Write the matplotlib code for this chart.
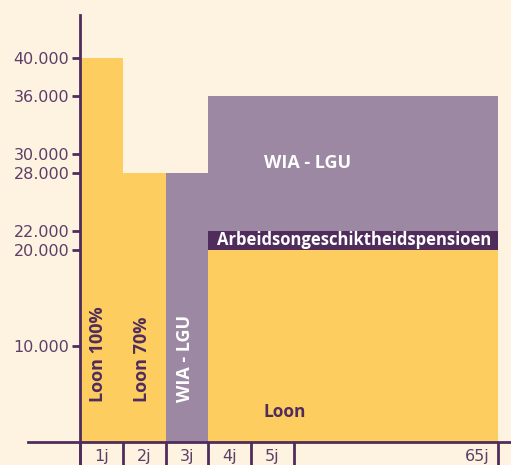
import numpy as np
import matplotlib.pyplot as plt

# colours
bg = '#fef3e1'
yellow = '#fdcd60'
purple = '#9c88a3'
dark = '#4f2c5c'

# data
periods = ['1j', '2j', '3j', '4j', '5j', '65j']
period_edges = [0, 1, 2, 3, 4, 5, 9.8]
bar_left = [0, 1, 2, 3]
bar_width = [1, 1, 1, 6.8]
loon = [40000, 28000, 0, 20000]
aop = [0, 0, 0, 2000]
wia = [0, 0, 28000, 14000]
yticks = [10000, 20000, 22000, 28000, 30000, 36000, 40000]
ytick_labels = ['10.000', '20.000', '22.000', '28.000', '30.000', '36.000', '40.000']

fig = plt.figure(figsize=(5.11, 4.65), dpi=100, facecolor=bg)
ax = fig.add_axes([28/511, 0, 483/511, 450/465])
ax.set_facecolor(bg)

loon = np.array(loon)
aop = np.array(aop)
wia = np.array(wia)
ax.bar(bar_left, loon, width=bar_width, align='edge', color=yellow, lw=0)
ax.bar(bar_left, aop, width=bar_width, bottom=loon, align='edge', color=dark, lw=0)
ax.bar(bar_left, wia, width=bar_width, bottom=loon + aop, align='edge', color=purple, lw=0)

ax.set_xlim(-1.23, 10.1)
ax.set_ylim(-2338, 44416)

for s in ['top', 'right']:
    ax.spines[s].set_visible(False)
ax.spines['left'].set_position(('data', 0))
ax.spines['bottom'].set_position(('data', 0))
for s in ['left', 'bottom']:
    ax.spines[s].set_color(dark)
    ax.spines[s].set_linewidth(2)

ax.set_yticks(yticks)
ax.set_yticklabels(ytick_labels)
ax.tick_params(axis='y', length=6, width=2, color=dark, labelcolor='#5b3f68',
               labelsize=11.5, pad=2)

ax.set_xticks(period_edges)
ax.set_xticklabels([])
ax.tick_params(axis='x', which='major', length=17, width=2, color=dark)
label_pos = [0.5, 1.5, 2.5, 3.5, 4.5, 9.3]
ax.set_xticks(label_pos, minor=True)
ax.set_xticklabels(periods, minor=True)
ax.tick_params(axis='x', which='minor', length=0, labelcolor='#5b3f68',
               labelsize=11.5, pad=5)

bold = dict(fontfamily='Open Sans', fontweight='bold')
ax.text(0.42, 4200, 'Loon 100%', rotation=90, color=dark, fontsize=13,
        ha='center', va='bottom', **bold)
ax.text(1.45, 4200, 'Loon 70%', rotation=90, color=dark, fontsize=13,
        ha='center', va='bottom', **bold)
ax.text(2.45, 4200, 'WIA - LGU', rotation=90, color='white', fontsize=13,
        ha='center', va='bottom', **bold)
ax.text(4.8, 3200, 'Loon', color=dark, fontsize=12.5, ha='center', va='center', **bold)
ax.text(5.32, 29000, 'WIA - LGU', color='white', fontsize=13, ha='center',
        va='center', **bold)
ax.text(3.2, 21000, 'Arbeidsongeschiktheidspensioen', color='white',
        fontsize=12, ha='left', va='center', **bold)

fig.savefig('out.png', dpi=100, facecolor=bg)
